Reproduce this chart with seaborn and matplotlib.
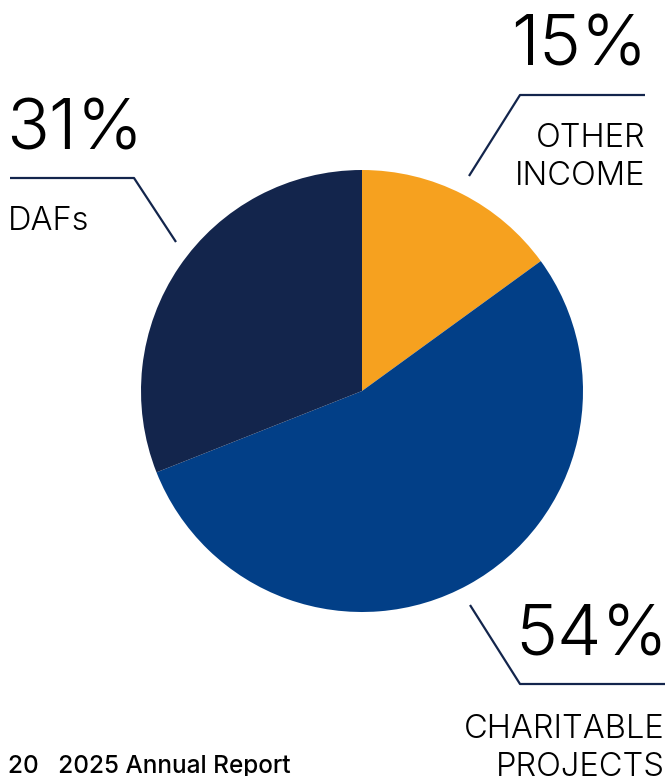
import matplotlib
matplotlib.use("Agg")
import matplotlib.pyplot as plt
import seaborn as sns

# Données du graphique
categories = ["OTHER\nINCOME", "CHARITABLE\nPROJECTS", "DAFs"]
parts = [15, 54, 31]
couleurs = ["#F6A11F", "#023F87", "#13254C"]

sns.set_theme(style="white")
plt.rcParams['font.family'] = ['Inter', 'DejaVu Sans']

fig = plt.figure(figsize=(6.7, 7.76), dpi=100)
ax = fig.add_axes([0, 0, 1, 1])

H = 776
palette = sns.color_palette(couleurs)
ax.pie(parts, colors=palette, startangle=90, counterclock=False,
       center=(362, H - 391), radius=221, frame=True,
       wedgeprops=dict(linewidth=0))
ax.set_xlim(0, 670)
ax.set_ylim(0, 776)
ax.set_aspect('equal')
ax.axis('off')

ligne = dict(color="#13254C", lw=1.6, solid_capstyle='butt')
# DAFs
ax.plot([10, 134, 176], [H - 178, H - 178, H - 242], **ligne)
# Other income
ax.plot([645, 520, 469], [H - 95, H - 95, H - 176], **ligne)
# Charitable projects
ax.plot([470, 520, 665], [H - 605, H - 684, H - 684], **ligne)

gros = dict(fontsize=51, fontweight=300, color='black', va='baseline')
moyen = dict(fontsize=23.5, fontweight=300, color='black', va='baseline',
             linespacing=1.3)

ax.text(6, H - 150, f"{parts[2]}%", ha='left', **gros)
ax.text(647, H - 66, f"{parts[0]}%", ha='right', **gros)
ax.text(668, H - 656, f"{parts[1]}%", ha='right', **gros)

ax.text(8, H - 230, categories[2], ha='left', **moyen)
ax.text(645, H - 185, categories[0], ha='right', multialignment='right', **moyen)
ax.text(665, H - 776, categories[1], ha='right', multialignment='right', **moyen)

ax.text(8, H - 773, "20   2025 Annual Report", ha='left', va='baseline',
        fontsize=17.5, fontweight=500, color='black')

fig.savefig("out.png", dpi=100)
